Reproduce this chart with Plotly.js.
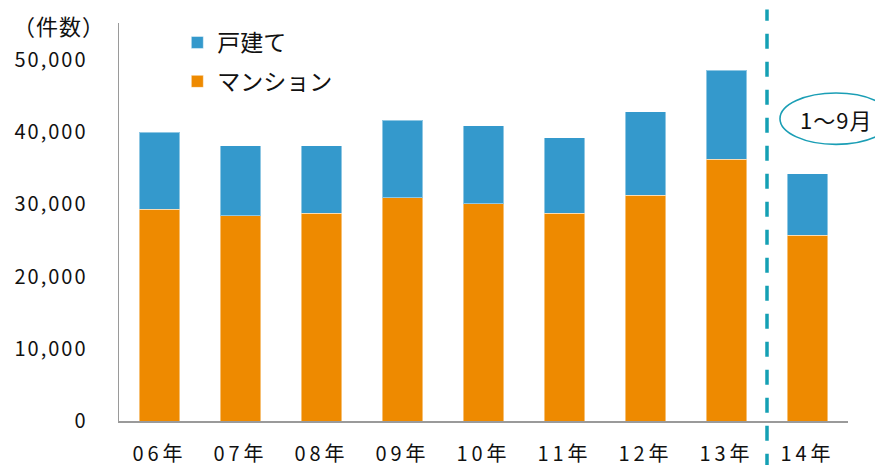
<!DOCTYPE html>
<html>
<head>
<meta charset="utf-8">
<script src="https://cdn.plot.ly/plotly-3.0.1.min.js"></script>
<style>
html,body{margin:0;padding:0;background:#fff;}
#chart .xtick text{letter-spacing:4px;}
#chart .ytick text{letter-spacing:2px;}
#chart .annotation-text{letter-spacing:1px;}
</style>
</head>
<body>
<div id="chart" style="width:875px;height:465px;"></div>
<script>
const categories = ["06年","07年","08年","09年","10年","11年","12年","13年","14年"];
const mansion = [29300, 28450, 28730, 30940, 30110, 28730, 31260, 36240, 25730];
const detached = [10700, 9680, 9400, 10730, 10790, 10450, 11520, 12310, 8530];
const yTicks = [0, 10000, 20000, 30000, 40000, 50000];
const seriesNames = ["マンション", "戸建て"];
const unitLabel = "（件数）";
const periodLabel = "1～9月";

const FONT = '"Noto Sans CJK JP", "Noto Sans", sans-serif';

const traces = [
  {
    type: 'bar', name: seriesNames[0], x: categories, y: mansion,
    marker: {color: '#EE8A00', line: {color: 'rgba(255,255,255,0.45)', width: 1}},
    legendgroup: 'a', legendrank: 2, hoverinfo: 'x+y'
  },
  {
    type: 'bar', name: seriesNames[1], x: categories, y: detached,
    marker: {color: '#3499CC', line: {color: 'rgba(255,255,255,0.45)', width: 1}},
    legendgroup: 'b', legendrank: 1, hoverinfo: 'x+y'
  }
];

const layout = {
  width: 875, height: 465,
  margin: {l: 119, r: 27, t: 23, b: 44, pad: 0},
  paper_bgcolor: '#fff', plot_bgcolor: '#fff',
  font: {family: FONT, size: 20, color: '#111'},
  barmode: 'stack',
  bargap: 0.5,
  showlegend: true,
  legend: {
    x: 0.08, y: 1.005, xanchor: 'left', yanchor: 'top',
    traceorder: 'grouped', tracegroupgap: 6,
    font: {family: FONT, size: 23, color: '#111'},
    bgcolor: 'rgba(0,0,0,0)', itemwidth: 30
  },
  xaxis: {
    type: 'category', range: [-0.5, 8.5],
    showline: true, linecolor: '#9a9a9a', linewidth: 1.5,
    ticks: '', showgrid: false, zeroline: false,
    ticklabelstandoff: 14,
    tickfont: {family: FONT, size: 20, color: '#111'}
  },
  yaxis: {
    range: [0, 55100],
    tickvals: yTicks, tickformat: ',d',
    showline: true, linecolor: '#9a9a9a', linewidth: 1.5,
    ticks: '', showgrid: false, zeroline: false,
    ticklabelstandoff: 26,
    tickfont: {family: FONT, size: 20, color: '#111'}
  },
  shapes: [
    {
      type: 'line', xref: 'x', yref: 'paper',
      x0: 7.5, x1: 7.5, y0: -0.12, y1: 1.034,
      line: {color: '#14A0B4', width: 3.5, dash: '15px,13px'}
    },
    {
      type: 'circle', xref: 'paper', yref: 'paper',
      x0: 0.9067, x1: 1.0604, y0: 0.695, y1: 0.824,
      line: {color: '#1A9EB5', width: 1.6}, fillcolor: 'rgba(0,0,0,0)'
    }
  ],
  annotations: [
    {
      text: unitLabel, xref: 'paper', yref: 'paper',
      x: -0.0823, y: 0.994, xanchor: 'center', yanchor: 'middle',
      showarrow: false, font: {family: FONT, size: 22, color: '#111'}
    },
    {
      text: periodLabel, xref: 'paper', yref: 'paper',
      x: 0.9835, y: 0.7595, xanchor: 'center', yanchor: 'middle',
      showarrow: false, font: {family: FONT, size: 22, color: '#111'}
    }
  ]
};

Plotly.newPlot('chart', traces, layout, {displayModeBar: false, staticPlot: true});
</script>
</body>
</html>
